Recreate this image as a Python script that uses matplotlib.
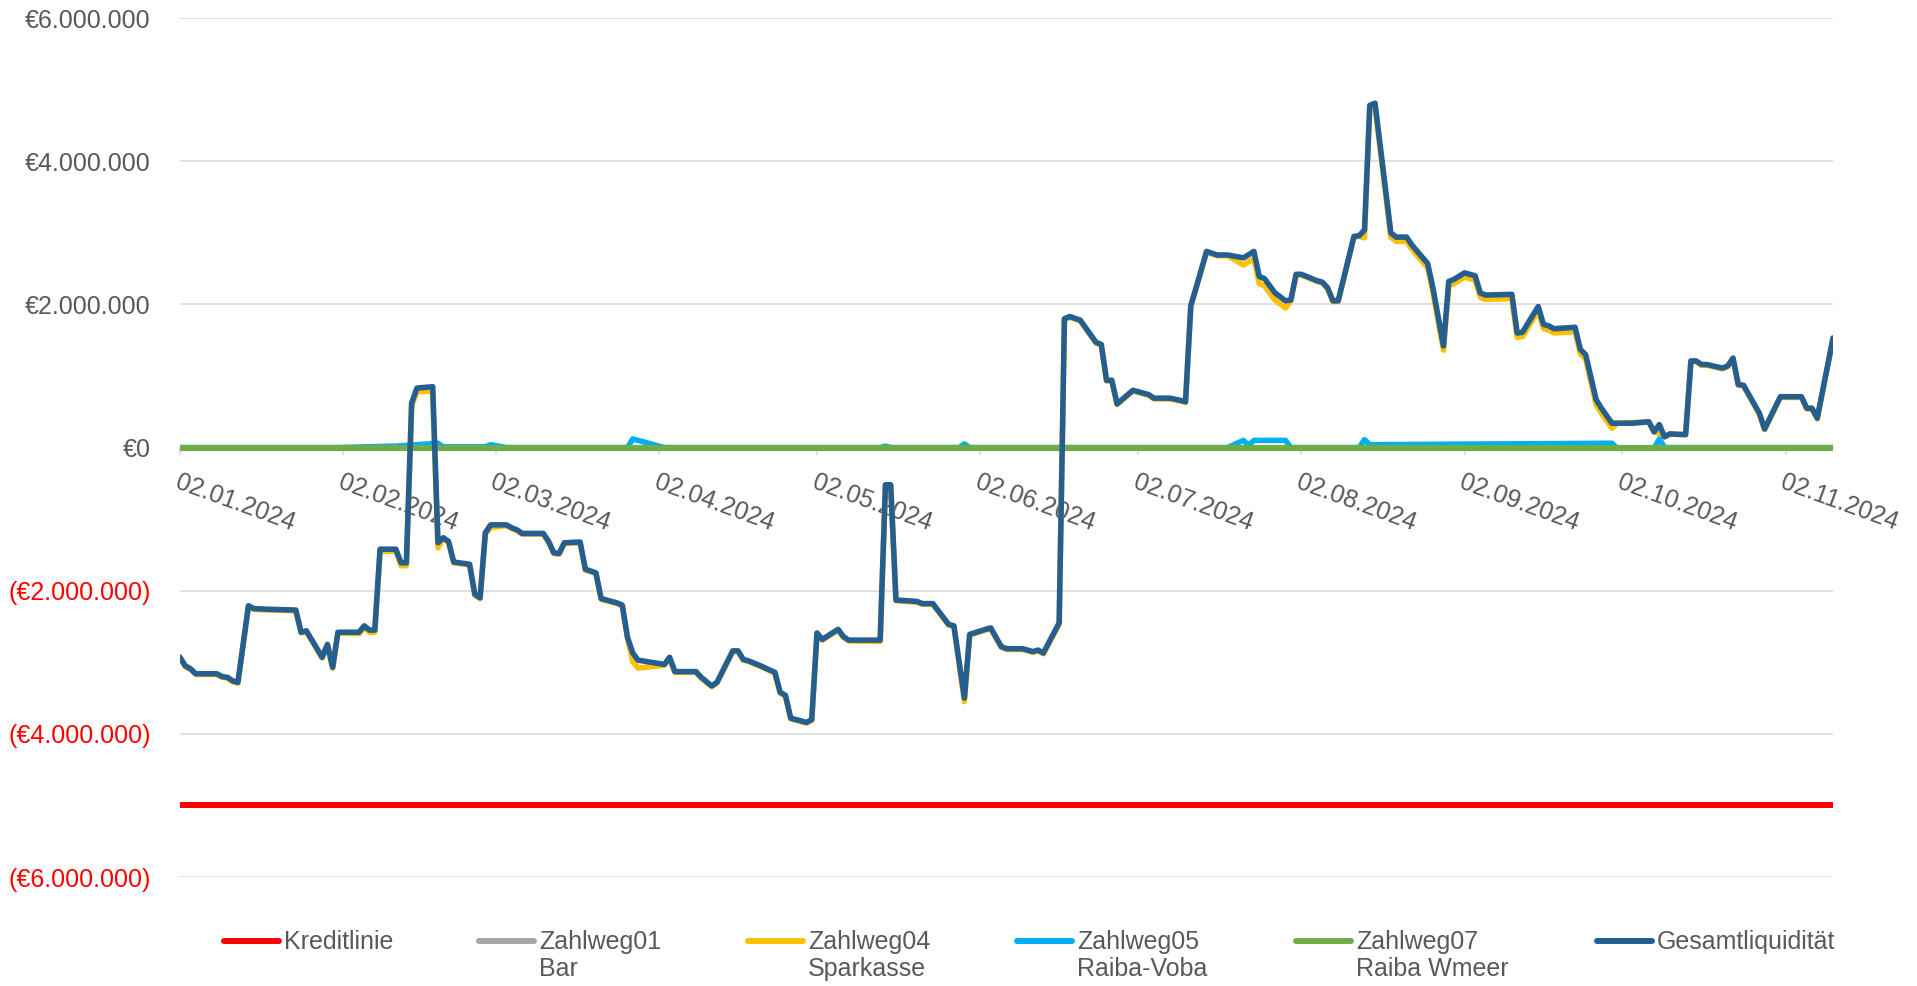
import matplotlib
matplotlib.use("Agg")
import matplotlib.pyplot as plt
from matplotlib.lines import Line2D
import pandas as pd

plt.rcParams['font.family'] = ['Liberation Sans', 'DejaVu Sans']

# Gesamtliquidität und Zahlweg04 (Sparkasse), Werte in Mio. €
dates = ["2024-01-02", "2024-01-03", "2024-01-04", "2024-01-05", "2024-01-09", "2024-01-10",
         "2024-01-11", "2024-01-12", "2024-01-13", "2024-01-15", "2024-01-16", "2024-01-19",
         "2024-01-24", "2024-01-25", "2024-01-26", "2024-01-29", "2024-01-30", "2024-01-31",
         "2024-02-01", "2024-02-05", "2024-02-06", "2024-02-07", "2024-02-08", "2024-02-09",
         "2024-02-12", "2024-02-13", "2024-02-14", "2024-02-15", "2024-02-16", "2024-02-19",
         "2024-02-20", "2024-02-21", "2024-02-22", "2024-02-23", "2024-02-26", "2024-02-27",
         "2024-02-28", "2024-02-29", "2024-03-01", "2024-03-04", "2024-03-05", "2024-03-06",
         "2024-03-07", "2024-03-11", "2024-03-12", "2024-03-13", "2024-03-14", "2024-03-15",
         "2024-03-18", "2024-03-19", "2024-03-21", "2024-03-22", "2024-03-25", "2024-03-26",
         "2024-03-27", "2024-03-28", "2024-03-29", "2024-04-03", "2024-04-04", "2024-04-05",
         "2024-04-09", "2024-04-10", "2024-04-12", "2024-04-13", "2024-04-16", "2024-04-17",
         "2024-04-18", "2024-04-19", "2024-04-21", "2024-04-24", "2024-04-25", "2024-04-26",
         "2024-04-27", "2024-04-30", "2024-05-01", "2024-05-02", "2024-05-03", "2024-05-06",
         "2024-05-07", "2024-05-08", "2024-05-14", "2024-05-15", "2024-05-16", "2024-05-17",
         "2024-05-21", "2024-05-22", "2024-05-24", "2024-05-27", "2024-05-28", "2024-05-30",
         "2024-05-31", "2024-06-03", "2024-06-04", "2024-06-06", "2024-06-07", "2024-06-10",
         "2024-06-12", "2024-06-13", "2024-06-14", "2024-06-17", "2024-06-18", "2024-06-19",
         "2024-06-21", "2024-06-24", "2024-06-25", "2024-06-26", "2024-06-27", "2024-06-28",
         "2024-07-01", "2024-07-04", "2024-07-05", "2024-07-08", "2024-07-10", "2024-07-11",
         "2024-07-12", "2024-07-13", "2024-07-15", "2024-07-17", "2024-07-19", "2024-07-22",
         "2024-07-24", "2024-07-25", "2024-07-26", "2024-07-28", "2024-07-30", "2024-07-31",
         "2024-08-01", "2024-08-02", "2024-08-05", "2024-08-06", "2024-08-07", "2024-08-08",
         "2024-08-09", "2024-08-12", "2024-08-13", "2024-08-14", "2024-08-15", "2024-08-16",
         "2024-08-19", "2024-08-20", "2024-08-22", "2024-08-23", "2024-08-26", "2024-08-27",
         "2024-08-29", "2024-08-30", "2024-08-31", "2024-09-02", "2024-09-04", "2024-09-05",
         "2024-09-06", "2024-09-11", "2024-09-12", "2024-09-13", "2024-09-16", "2024-09-17",
         "2024-09-18", "2024-09-19", "2024-09-23", "2024-09-24", "2024-09-25", "2024-09-27",
         "2024-09-28", "2024-09-30", "2024-10-01", "2024-10-04", "2024-10-07", "2024-10-08",
         "2024-10-09", "2024-10-10", "2024-10-11", "2024-10-14", "2024-10-15", "2024-10-16",
         "2024-10-17", "2024-10-18", "2024-10-21", "2024-10-22", "2024-10-23", "2024-10-24",
         "2024-10-25", "2024-10-28", "2024-10-29", "2024-11-01", "2024-11-05", "2024-11-06",
         "2024-11-07", "2024-11-08", "2024-11-11"]

gesamt = [-2.93, -3.05, -3.09, -3.16, -3.16, -3.20, -3.21, -3.26, -3.28, -2.21, -2.25, -2.26,
          -2.27, -2.58, -2.56, -2.93, -2.75, -3.07, -2.58, -2.58, -2.49, -2.55, -2.55, -1.42,
          -1.42, -1.61, -1.61, 0.62, 0.83, 0.85, -1.33, -1.26, -1.31, -1.60, -1.63, -2.05,
          -2.10, -1.19, -1.08, -1.08, -1.12, -1.15, -1.20, -1.20, -1.31, -1.47, -1.48, -1.33,
          -1.32, -1.70, -1.75, -2.11, -2.17, -2.20, -2.65, -2.87, -2.97, -3.03, -2.93, -3.13,
          -3.13, -3.21, -3.33, -3.28, -2.84, -2.84, -2.96, -2.98, -3.04, -3.14, -3.42, -3.46,
          -3.78, -3.84, -3.80, -2.59, -2.68, -2.54, -2.64, -2.69, -2.69, -0.52, -0.52, -2.13,
          -2.15, -2.18, -2.18, -2.47, -2.49, -3.50, -2.61, -2.54, -2.52, -2.78, -2.81, -2.81,
          -2.85, -2.83, -2.87, -2.45, 1.80, 1.83, 1.78, 1.47, 1.44, 0.94, 0.94, 0.61,
          0.80, 0.74, 0.69, 0.69, 0.66, 0.64, 1.98, 2.23, 2.74, 2.69, 2.69, 2.65,
          2.74, 2.39, 2.36, 2.16, 2.05, 2.06, 2.42, 2.42, 2.33, 2.31, 2.23, 2.05,
          2.05, 2.95, 2.96, 3.04, 4.78, 4.81, 3.00, 2.94, 2.94, 2.83, 2.57, 2.23,
          1.42, 2.32, 2.35, 2.44, 2.40, 2.16, 2.13, 2.14, 1.60, 1.61, 1.97, 1.72,
          1.70, 1.66, 1.68, 1.37, 1.30, 0.67, 0.55, 0.34, 0.34, 0.34, 0.36, 0.22,
          0.32, 0.15, 0.19, 0.18, 1.21, 1.21, 1.16, 1.16, 1.11, 1.14, 1.25, 0.88,
          0.87, 0.48, 0.26, 0.71, 0.71, 0.55, 0.55, 0.41, 1.53]

sparkasse = [-2.94, -3.06, -3.10, -3.17, -3.17, -3.21, -3.22, -3.27, -3.29, -2.22, -2.26, -2.27,
             -2.28, -2.59, -2.57, -2.94, -2.76, -3.08, -2.59, -2.60, -2.52, -2.58, -2.58, -1.45,
             -1.45, -1.65, -1.65, 0.58, 0.78, 0.79, -1.40, -1.28, -1.32, -1.61, -1.64, -2.06,
             -2.11, -1.21, -1.12, -1.09, -1.13, -1.16, -1.21, -1.21, -1.32, -1.48, -1.49, -1.34,
             -1.33, -1.71, -1.76, -2.12, -2.18, -2.21, -2.66, -2.99, -3.08, -3.04, -2.94, -3.14,
             -3.14, -3.22, -3.34, -3.29, -2.85, -2.85, -2.97, -2.99, -3.05, -3.15, -3.43, -3.47,
             -3.79, -3.85, -3.81, -2.60, -2.69, -2.55, -2.65, -2.70, -2.71, -0.54, -0.53, -2.14,
             -2.16, -2.19, -2.19, -2.48, -2.50, -3.55, -2.62, -2.55, -2.53, -2.79, -2.82, -2.82,
             -2.86, -2.84, -2.88, -2.47, 1.79, 1.82, 1.77, 1.46, 1.43, 0.93, 0.93, 0.60,
             0.79, 0.73, 0.68, 0.68, 0.65, 0.63, 1.97, 2.22, 2.73, 2.68, 2.68, 2.55,
             2.64, 2.29, 2.26, 2.06, 1.95, 2.05, 2.41, 2.41, 2.32, 2.30, 2.22, 2.04,
             2.04, 2.94, 2.95, 2.93, 4.74, 4.75, 2.94, 2.88, 2.88, 2.77, 2.51, 2.17,
             1.36, 2.26, 2.29, 2.38, 2.34, 2.10, 2.07, 2.08, 1.54, 1.55, 1.91, 1.66,
             1.64, 1.60, 1.62, 1.31, 1.24, 0.60, 0.48, 0.27, 0.34, 0.35, 0.36, 0.22,
             0.20, 0.15, 0.19, 0.18, 1.20, 1.20, 1.15, 1.15, 1.10, 1.13, 1.24, 0.87,
             0.86, 0.47, 0.25, 0.70, 0.70, 0.54, 0.54, 0.40, 1.52]

# Zahlweg05 (Raiba-Voba), Mio. €
dates_voba = ["2024-01-02", "2024-02-01", "2024-02-12", "2024-02-16", "2024-02-20", "2024-02-21",
              "2024-02-29", "2024-03-01", "2024-03-04", "2024-03-27", "2024-03-28", "2024-04-03",
              "2024-05-14", "2024-05-15", "2024-05-16", "2024-05-29", "2024-05-30", "2024-05-31",
              "2024-07-19", "2024-07-22", "2024-07-23", "2024-07-24", "2024-07-30", "2024-07-31",
              "2024-08-13", "2024-08-14", "2024-08-15", "2024-09-30", "2024-10-01", "2024-10-08",
              "2024-10-09", "2024-10-10", "2024-11-11"]
voba = [0.0, 0.0, 0.02, 0.04, 0.06, 0.01, 0.01, 0.04, 0.0, 0.0, 0.12, 0.0,
        0.0, 0.02, 0.0, 0.0, 0.05, 0.0, 0.0, 0.10, 0.03, 0.10, 0.10, 0.0,
        0.0, 0.11, 0.04, 0.06, -0.01, -0.01, 0.12, 0.0, 0.0]

# Zahlweg01 (Bar) und Zahlweg07 (Raiba Wmeer), Mio. €
dates_flat = ["2024-01-02", "2024-11-11"]
bar = [0.0, 0.0]
wmeer = [0.0, 0.0]

kreditlinie = -5.0

tick_dates = ["2024-%02d-02" % m for m in range(1, 12)]
tick_labels = ["02.%02d.2024" % m for m in range(1, 12)]
y_ticks = [-6, -4, -2, 0, 2, 4, 6]

labels = ["Kreditlinie", "Zahlweg01\nBar", "Zahlweg04\nSparkasse",
          "Zahlweg05\nRaiba-Voba", "Zahlweg07\nRaiba Wmeer", "Gesamtliquidität"]
colors = ["#FF0000", "#A5A5A5", "#FFC000", "#00B0F0", "#70AD47", "#255E91"]


def eur(v):
    n = int(round(v * 1e6))
    s = "{:,}".format(abs(n)).replace(",", ".")
    return "€" + s if n >= 0 else "(€" + s + ")"


fig = plt.figure(figsize=(19.17, 9.86), dpi=100)
ax = fig.add_axes([0.0939, 0.1105, 0.8623, 0.8712])

x = pd.to_datetime(dates)
x_voba = pd.to_datetime(dates_voba)
x_flat = pd.to_datetime(dates_flat)

lw = 4.0
ax.plot([x[0], x[-1]], [kreditlinie, kreditlinie], color=colors[0], lw=4.3,
        solid_capstyle='round', zorder=3)
ax.plot(x_flat, bar, color=colors[1], lw=lw, zorder=3)
ax.plot(x, sparkasse, color=colors[2], lw=lw, solid_joinstyle='round', zorder=3)
ax.plot(x_voba, voba, color=colors[3], lw=lw, solid_joinstyle='round', zorder=3)
ax.plot(x_flat, wmeer, color=colors[4], lw=4.4, solid_capstyle='butt', zorder=3)
ax.plot(x, gesamt, color=colors[5], lw=lw, solid_joinstyle='round', solid_capstyle='round',
        zorder=3)

ax.set_xlim(x[0], x[-1])
ax.set_ylim(-6, 6)

ax.set_yticks(y_ticks)
ax.set_yticklabels([eur(v) for v in y_ticks])
for lbl, v in zip(ax.get_yticklabels(), y_ticks):
    lbl.set_color('#FF0000' if v < 0 else '#595959')
ax.tick_params(axis='y', length=0, pad=21, labelsize=18)
ax.grid(axis='y', color='#D9D9D9', lw=1.1)
ax.set_axisbelow(True)

ax.set_xticks(pd.to_datetime(tick_dates))
ax.set_xticklabels(tick_labels)
ax.tick_params(axis='x', length=5, width=1.1, color='#D9D9D9', pad=11,
               labelsize=18, labelcolor='#595959', labelrotation=-20)

for side in ['top', 'right', 'left']:
    ax.spines[side].set_visible(False)
ax.spines['bottom'].set_position(('data', 0))
ax.spines['bottom'].set_color('#D9D9D9')
ax.spines['bottom'].set_linewidth(1.1)
ax.spines['bottom'].set_zorder(1)

fig.canvas.draw()
for lbl in ax.get_xticklabels():
    lbl.set_horizontalalignment('left')
    lbl.set_verticalalignment('top')
    lbl.set_rotation_mode('anchor')

# Legende unten, Symbol auf Höhe der ersten Textzeile
W, H = 1917.0, 986.0
legend_x = [224, 479, 748, 1017, 1296, 1597]
handle_len = 55
for lx, lab, col in zip(legend_x, labels, colors):
    fig.add_artist(Line2D([lx / W, (lx + handle_len) / W], [1 - 941 / H, 1 - 941 / H],
                          transform=fig.transFigure, color=col, lw=4.3, solid_capstyle='round'))
    fig.text((lx + handle_len + 5) / W, 1 - 930 / H, lab, ha='left', va='top',
             fontsize=18, color='#595959', linespacing=1.15)

fig.savefig('out.png', dpi=100)
